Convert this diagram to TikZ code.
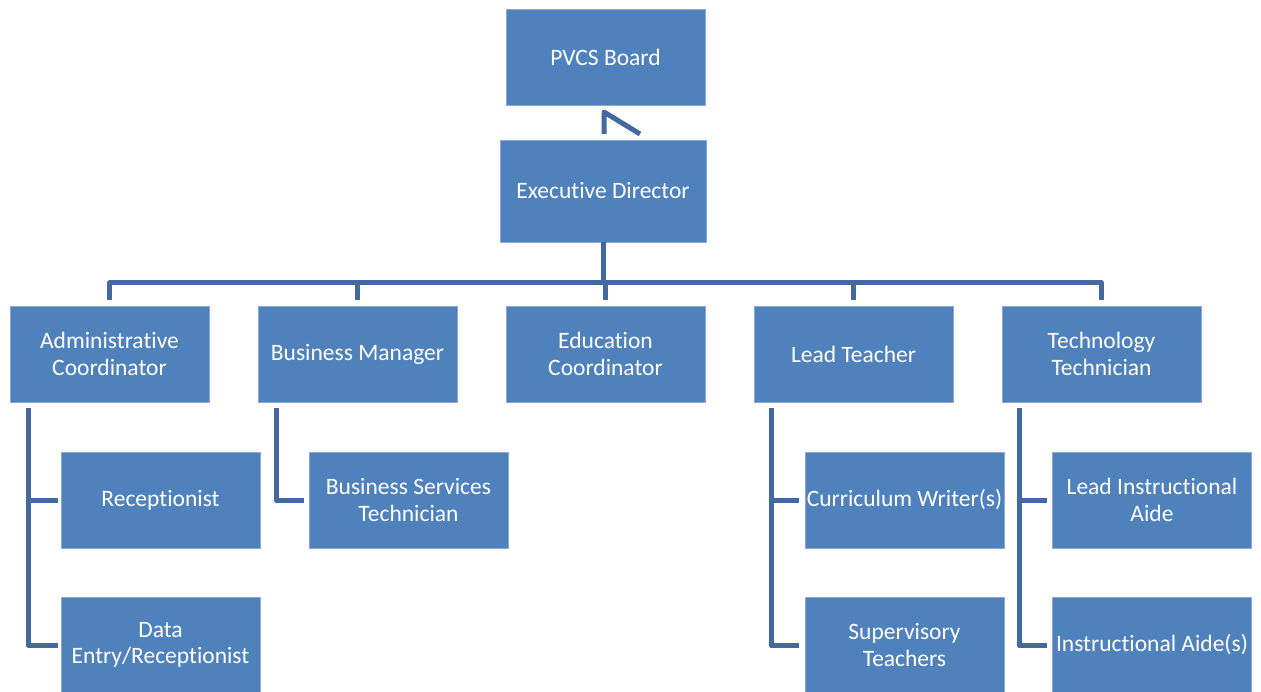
\documentclass[tikz,border=0pt]{standalone}
\usepackage{fontspec}
\setmainfont{Carlito}[Ligatures=NoCommon]
\definecolor{boxfill}{HTML}{4F81BD}
\definecolor{boxedge}{HTML}{8AAAD3}
\definecolor{linec}{HTML}{4369A0}
\begin{document}
\begin{tikzpicture}[x=1pt,y=-1pt,
  box/.style={rectangle, fill=boxfill, draw=boxedge, line width=0.8pt,
    minimum width=199pt, minimum height=96pt, inner sep=0pt, align=center,
    text=white, font=\fontsize{23.5}{26.5}\selectfont},
  conn/.style={draw=linec, line width=5pt, line join=round}]
\useasboundingbox (0,0) rectangle (1261,692);
% nodes
\node[box] (board) at (605.5,57) {PVCS Board};
\node[box, minimum width=206pt, minimum height=102pt] (ed) at (603,191) {Executive Director};
\node[box] (adm) at (109.5,354) {Administrative\\Coordinator};
\node[box] (bm) at (357.5,354) {Business Manager};
\node[box] (ec) at (605.5,354) {Education\\Coordinator};
\node[box] (lt) at (853.5,354) {Lead Teacher};
\node[box] (tt) at (1101.5,354) {Technology\\Technician};
\node[box] (rec) at (160.5,500) {Receptionist};
\node[box] (de) at (160.5,645) {Data\\Entry/Receptionist};
\node[box] (bst) at (408.5,500) {Business Services\\Technician};
\node[box] (cw) at (904.5,500) {Curriculum Writer(s)};
\node[box] (st) at (904.5,645) {Supervisory\\Teachers};
\node[box] (lia) at (1152,500) {Lead Instructional\\Aide};
\node[box] (ia) at (1152,645) {Instructional Aide(s)};
% top connector
\coordinate (t1) at (604,134);
\coordinate (t2) at (604,112);
\coordinate (t3) at (640,134);
\draw[conn] (t1) -- (t2) -- (t3);
% bus
\coordinate (bus) at (604,283);
\draw[conn] (ed.south) -- (ed.south |- bus);
\draw[conn] ([yshift=6pt]adm.north) |- (bus);
\draw[conn] ([yshift=6pt]bm.north) |- (bus);
\draw[conn] ([yshift=6pt]ec.north) -- (ec.north |- bus);
\draw[conn] ([yshift=6pt]lt.north) |- (bus);
\draw[conn] ([yshift=6pt]tt.north) |- (bus);
% sub-branches
\coordinate (a1) at (28,408);
\draw[conn] (a1) |- ([xshift=-3pt]de.west);
\draw[conn] (a1 |- rec.west) -- ([xshift=-3pt]rec.west);
\coordinate (b1) at (276,408);
\draw[conn] (b1) |- ([xshift=-5pt]bst.west);
\coordinate (l1) at (771,408);
\draw[conn] (l1) |- ([xshift=-6pt]st.west);
\draw[conn] (l1 |- cw.west) -- ([xshift=-6pt]cw.west);
\coordinate (c1) at (1019,408);
\draw[conn] (c1) |- ([xshift=-5pt]ia.west);
\draw[conn] (c1 |- lia.west) -- ([xshift=-5pt]lia.west);
\end{tikzpicture}
\end{document}
